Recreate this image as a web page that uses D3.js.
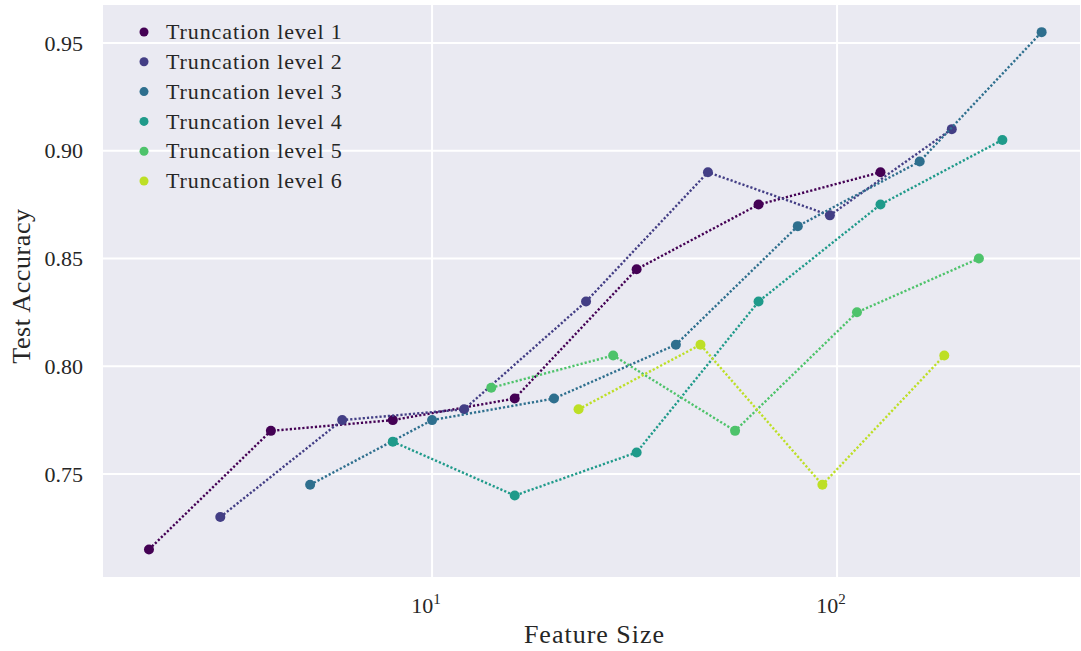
<!DOCTYPE html>
<html>
<head>
<meta charset="utf-8">
<script src="https://cdn.jsdelivr.net/npm/d3@7"></script>
<style>
  body { margin: 0; background: #fff; }
  text { font-family: "Liberation Serif", serif; fill: #262626; }
</style>
</head>
<body>
<div id="chart"></div>
<script>
// feature sizes and accuracies per truncation level
const level1X = [2, 4, 8, 16, 32, 64, 128];
const level1Y = [0.715, 0.77, 0.775, 0.785, 0.845, 0.875, 0.89];
const level2X = [3, 6, 12, 24, 48, 96, 192];
const level2Y = [0.73, 0.775, 0.78, 0.83, 0.89, 0.87, 0.91];
const level3X = [5, 10, 20, 40, 80, 160, 320];
const level3Y = [0.745, 0.775, 0.785, 0.81, 0.865, 0.895, 0.955];
const level4X = [8, 16, 32, 64, 128, 256];
const level4Y = [0.765, 0.74, 0.76, 0.83, 0.875, 0.905];
const level5X = [14, 28, 56, 112, 224];
const level5Y = [0.79, 0.805, 0.77, 0.825, 0.85];
const level6X = [23, 46, 92, 184];
const level6Y = [0.78, 0.81, 0.745, 0.805];

const seriesNames = ["Truncation level 1", "Truncation level 2", "Truncation level 3",
                     "Truncation level 4", "Truncation level 5", "Truncation level 6"];
const yTicks = [0.75, 0.80, 0.85, 0.90, 0.95];
const xTicks = [10, 100];

const allX = [level1X, level2X, level3X, level4X, level5X, level6X];
const allY = [level1Y, level2Y, level3Y, level4Y, level5Y, level6Y];
const series = seriesNames.map((name, i) => ({
  name: name,
  color: d3.interpolateViridis(i * 0.18),
  points: allX[i].map((x, j) => ({x: x, y: allY[i][j]}))
}));

const W = 1081, H = 651;
const margin = {top: 5, right: 1, bottom: 74, left: 103},
  width = W - margin.left - margin.right,
  height = H - margin.top - margin.bottom;

const svg = d3.select("#chart")
  .append("svg")
  .attr("width", W)
  .attr("height", H)
  .append("g")
  .attr("transform", `translate(${margin.left},${margin.top})`);

const x = d3.scaleLog()
  .domain([1.54, 398])
  .range([0, width]);
const y = d3.scaleLinear()
  .domain([0.7022, 0.9676])
  .range([height, 0]);

svg.append("rect")
  .attr("width", width)
  .attr("height", height)
  .attr("fill", "#eaeaf2");

// grid
svg.selectAll(".hgrid")
  .data(yTicks)
  .join("line")
  .attr("x1", 0).attr("x2", width)
  .attr("y1", d => y(d)).attr("y2", d => y(d))
  .attr("stroke", "#fff")
  .attr("stroke-width", 2);
svg.selectAll(".vgrid")
  .data(xTicks)
  .join("line")
  .attr("y1", 0).attr("y2", height)
  .attr("x1", d => x(d)).attr("x2", d => x(d))
  .attr("stroke", "#fff")
  .attr("stroke-width", 2);

// tick labels
svg.selectAll(".ytick")
  .data(yTicks)
  .join("text")
  .attr("x", -20)
  .attr("y", d => y(d))
  .attr("dy", "0.35em")
  .attr("text-anchor", "end")
  .style("font-size", "22px")
  .text(d => d3.format(".2f")(d));

const xt = svg.selectAll(".xtick")
  .data(xTicks)
  .join("text")
  .attr("x", d => x(d) - 6)
  .attr("y", height + 36)
  .attr("text-anchor", "middle")
  .style("font-size", "22px");
xt.append("tspan").text("10");
xt.append("tspan")
  .attr("dy", -9)
  .style("font-size", "15px")
  .text(d => Math.round(Math.log10(d)));

svg.append("text")
  .attr("x", width / 2 + 3)
  .attr("y", height + 66)
  .attr("text-anchor", "middle")
  .style("font-size", "26px")
  .style("letter-spacing", "1px")
  .text("Feature Size");

svg.append("text")
  .attr("transform", "rotate(-90)")
  .attr("x", -(height / 2) + 5)
  .attr("y", -103 + 30)
  .attr("text-anchor", "middle")
  .style("font-size", "26px")
  .style("letter-spacing", "0.6px")
  .text("Test Accuracy");

// lines and points
const line = d3.line()
  .x(d => x(d.x))
  .y(d => y(d.y));

const g = svg.selectAll(".series")
  .data(series)
  .join("g");

g.append("path")
  .attr("d", d => line(d.points))
  .attr("fill", "none")
  .attr("stroke", d => d.color)
  .attr("stroke-width", 2.4)
  .attr("stroke-dasharray", "2.2,2");

g.selectAll("circle")
  .data(d => d.points.map(p => ({...p, color: d.color})))
  .join("circle")
  .attr("cx", d => x(d.x))
  .attr("cy", d => y(d.y))
  .attr("r", 5)
  .attr("fill", d => d.color);

// legend
const legend = svg.append("g")
  .attr("transform", "translate(41,27)");
const item = legend.selectAll("g")
  .data(series)
  .join("g")
  .attr("transform", (d, i) => `translate(0,${i * 29.8})`);
item.append("circle")
  .attr("r", 4.5)
  .attr("fill", d => d.color);
item.append("text")
  .attr("x", 22)
  .attr("dy", "0.33em")
  .style("font-size", "22px")
  .style("letter-spacing", "0.9px")
  .text(d => d.name);
</script>
</body>
</html>
